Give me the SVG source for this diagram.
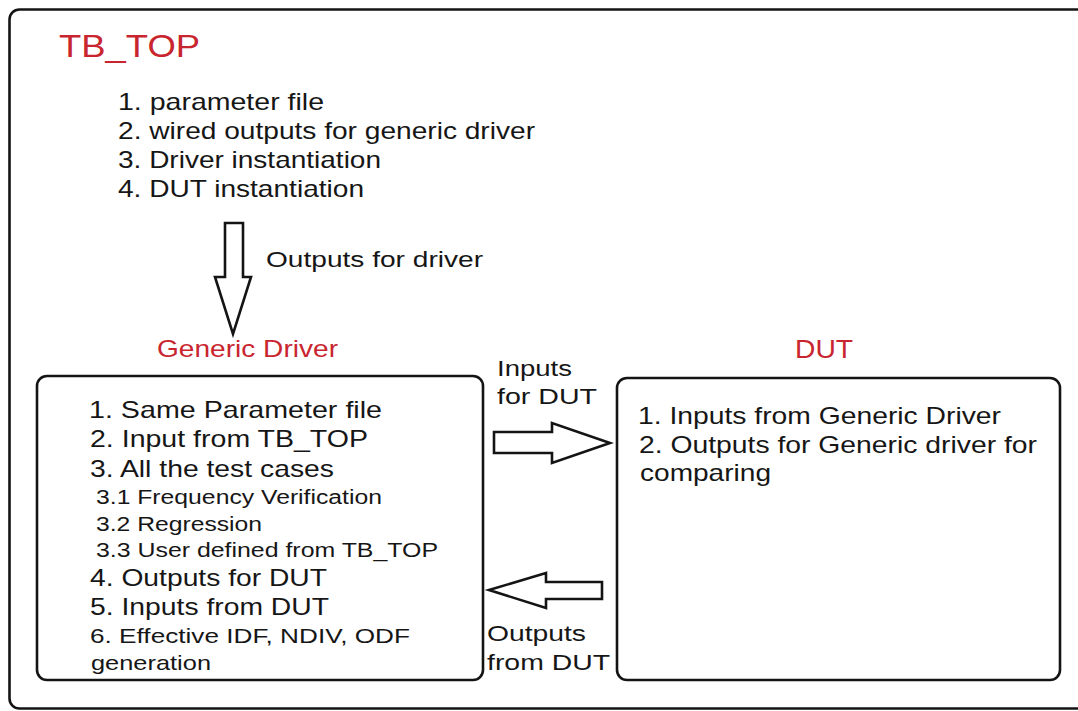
<svg xmlns="http://www.w3.org/2000/svg" width="1078" height="711" viewBox="0 0 1078 711">
  <style>
    text { font-family: "Liberation Sans", Arial, sans-serif; fill: #161616; }
    .title { fill: #c9252f; }
    .box { fill: #ffffff; stroke: #141414; stroke-width: 2.6; }
    .arrow { fill: #ffffff; stroke: #141414; stroke-width: 2.6; stroke-linejoin: miter; }
    .lg { font-size: 24px; }
    .md { font-size: 22px; }
    .sm { font-size: 20px; }
    .s6 { font-size: 21px; }
  </style>
  <rect width="1078" height="711" fill="#ffffff"/>

  <!-- Top-level testbench -->
  <g id="tb_top">
    <rect class="box" x="9.5" y="9.5" width="1100" height="699" rx="10"/>
    <text class="title" x="59" y="57" font-size="32" textLength="141" lengthAdjust="spacingAndGlyphs">TB_TOP</text>
    <text class="lg" x="118" y="110" textLength="206" lengthAdjust="spacingAndGlyphs">1. parameter file</text>
    <text class="lg" x="118" y="139" textLength="417" lengthAdjust="spacingAndGlyphs">2. wired outputs for generic driver</text>
    <text class="lg" x="118" y="168" textLength="263" lengthAdjust="spacingAndGlyphs">3. Driver instantiation</text>
    <text class="lg" x="118" y="197" textLength="246" lengthAdjust="spacingAndGlyphs">4. DUT instantiation</text>
  </g>

  <!-- Generic driver block -->
  <g id="generic_driver">
    <text class="title" x="157" y="357" font-size="24" textLength="181" lengthAdjust="spacingAndGlyphs">Generic Driver</text>
    <rect class="box" x="37" y="376" width="446" height="304" rx="10"/>
    <text class="lg" x="89" y="418" textLength="293" lengthAdjust="spacingAndGlyphs">1. Same Parameter file</text>
    <text class="lg" x="90" y="447" textLength="278" lengthAdjust="spacingAndGlyphs">2. Input from TB_TOP</text>
    <text class="lg" x="90" y="477" textLength="244" lengthAdjust="spacingAndGlyphs">3. All the test cases</text>
    <text class="sm" x="96" y="504" textLength="286" lengthAdjust="spacingAndGlyphs">3.1 Frequency Verification</text>
    <text class="sm" x="96" y="531" textLength="166" lengthAdjust="spacingAndGlyphs">3.2 Regression</text>
    <text class="sm" x="96" y="557" textLength="342" lengthAdjust="spacingAndGlyphs">3.3 User defined from TB_TOP</text>
    <text class="lg" x="90" y="586" textLength="237" lengthAdjust="spacingAndGlyphs">4. Outputs for DUT</text>
    <text class="lg" x="90" y="615" textLength="239" lengthAdjust="spacingAndGlyphs">5. Inputs from DUT</text>
    <text class="s6" x="90" y="643" textLength="320" lengthAdjust="spacingAndGlyphs">6. Effective IDF, NDIV, ODF</text>
    <text class="s6" x="91" y="670" textLength="120" lengthAdjust="spacingAndGlyphs">generation</text>
  </g>

  <!-- Device under test -->
  <g id="dut">
    <text class="title" x="795" y="358" font-size="25" textLength="58" lengthAdjust="spacingAndGlyphs">DUT</text>
    <rect class="box" x="617" y="378" width="443" height="302" rx="10"/>
    <text class="lg" x="638" y="424" textLength="363" lengthAdjust="spacingAndGlyphs">1. Inputs from Generic Driver</text>
    <text class="lg" x="639" y="453" textLength="398" lengthAdjust="spacingAndGlyphs">2. Outputs for Generic driver for</text>
    <text class="lg" x="640" y="481" textLength="131" lengthAdjust="spacingAndGlyphs">comparing</text>
  </g>

  <!-- Block arrows between the blocks -->
  <g id="connectors">
    <polygon class="arrow" points="225,223 243,223 243,277 251,277 233,334 215,277 225,277"/>
    <text class="md" x="266" y="267" font-size="23" textLength="217" lengthAdjust="spacingAndGlyphs">Outputs for driver</text>

    <polygon class="arrow" points="494,432 552,432 552,423 610,443 552,463 552,453 494,453"/>
    <text class="md" x="497" y="376" textLength="75" lengthAdjust="spacingAndGlyphs">Inputs</text>
    <text class="md" x="497" y="404" textLength="100" lengthAdjust="spacingAndGlyphs">for DUT</text>

    <polygon class="arrow" points="489,590 546,573 546,582 602,582 602,599 546,599 546,608"/>
    <text class="md" x="487" y="641" textLength="99" lengthAdjust="spacingAndGlyphs">Outputs</text>
    <text class="md" x="487" y="670" textLength="123" lengthAdjust="spacingAndGlyphs">from DUT</text>
  </g>
</svg>
